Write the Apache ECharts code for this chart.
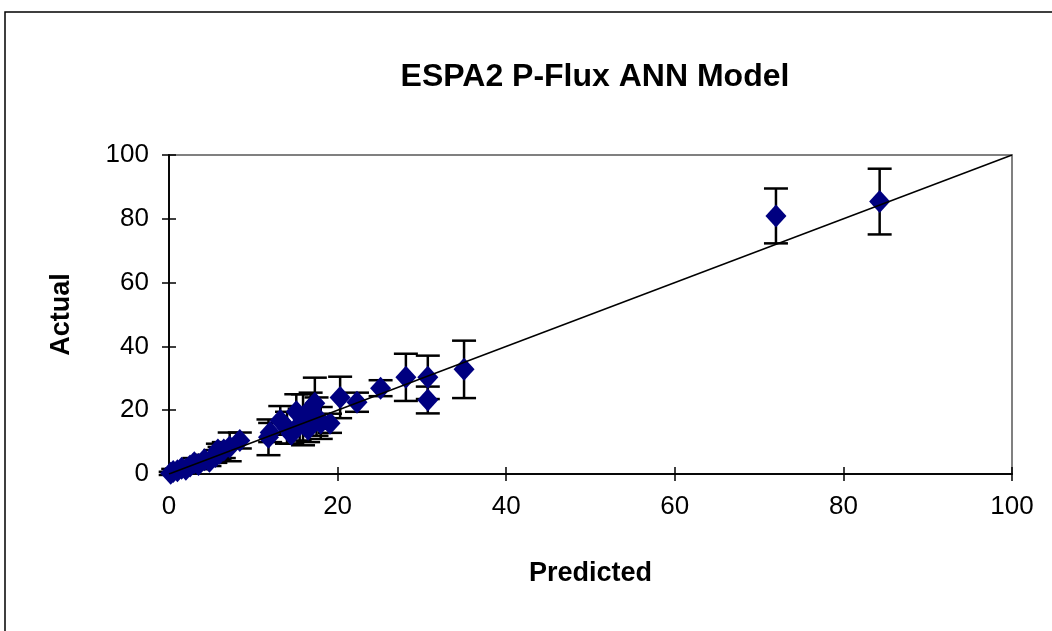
<!DOCTYPE html>
<html>
<head>
<meta charset="utf-8">
<script src="https://cdn.jsdelivr.net/npm/echarts@6/dist/echarts.min.js"></script>
<style>html,body{margin:0;padding:0;background:#fff;}#c{width:1052px;height:631px;}</style>
</head>
<body>
<div id="c"></div>
<script>
var predicted = [0.2,0.5,1.0,1.5,2.0,2.5,3.0,3.5,4.2,4.8,5.5,5.8,6.0,6.5,7.2,8.4,11.8,12.0,13.2,14.0,14.5,15.1,15.5,15.9,16.5,16.8,17.3,17.5,18.0,19.1,20.3,22.3,25.1,28.1,30.7,30.7,35.0,72.0,84.3];
var actual    = [0.2,0.8,1.0,1.8,1.5,2.5,3.5,3.0,4.5,4.0,5.5,7.5,6.5,7.5,8.5,10.5,11.5,13.0,16.8,14.5,12.5,19.5,15.5,17.0,14.0,20.5,22.2,18.0,16.0,15.9,24.0,22.5,26.9,30.3,30.3,23.2,32.8,80.9,85.4];
var errorBar  = [0.5,0.8,0.8,1.0,1.0,1.2,1.5,1.5,1.5,1.5,2.0,2.0,2.0,2.5,4.5,2.5,5.6,3.0,4.5,5.0,3.0,5.5,5.0,8.0,4.0,5.0,8.0,6.0,5.0,3.0,6.5,3.0,2.5,7.4,6.8,4.2,9.0,8.6,10.3];
var xTicks = [0,20,40,60,80,100];
var yTicks = [0,20,40,60,80,100];
var fitLine = [[0,0],[100,100]];

var pts = predicted.map(function(p,i){return [p, actual[i]];});
var errs = predicted.map(function(p,i){return [p, actual[i]-errorBar[i], actual[i]+errorBar[i]];});

var chart = echarts.init(document.getElementById('c'));
var FONT = 'Liberation Sans, Arial, sans-serif';
function xAx(inside, show){
  return {type:'value', min:xTicks[0], max:xTicks[xTicks.length-1], interval:20, position:'bottom',
    axisLine:{show:true, onZero:false, lineStyle:{color:'#000', width:1.5}},
    axisTick:{show:true, inside:inside, length:7, lineStyle:{color:'#000', width:1.5}},
    axisLabel:{show:show, margin:20, color:'#000', fontSize:26, fontFamily:FONT},
    splitLine:{show:false},
    name: show ? 'Predicted' : '', nameLocation:'middle', nameGap:86,
    nameTextStyle:{color:'#000', fontSize:27, fontWeight:'bold', fontFamily:FONT}};
}
function yAx(inside, show){
  return {type:'value', min:yTicks[0], max:yTicks[yTicks.length-1], interval:20, position:'left',
    axisLine:{show:true, onZero:false, lineStyle:{color:'#000', width:1.5}},
    axisTick:{show:true, inside:inside, length:7, lineStyle:{color:'#000', width:1.5}},
    axisLabel:{show:show, margin:20, color:'#000', fontSize:26, fontFamily:FONT},
    splitLine:{show:false},
    name: show ? 'Actual' : '', nameLocation:'middle', nameGap:94,
    nameTextStyle:{color:'#000', fontSize:27, fontWeight:'bold', fontFamily:FONT}};
}
chart.setOption({
  animation:false,
  backgroundColor:'#fff',
  title:{text:'ESPA2 P-Flux ANN Model', left:590, top:56, textAlign:'center',
    textStyle:{color:'#000', fontSize:32, fontWeight:'bold', fontFamily:FONT}},
  graphic:[{type:'rect', shape:{x:5, y:12, width:1100, height:700}, style:{fill:'none', stroke:'#000', lineWidth:1.5}, silent:true}],
  grid:{left:169, right:40, top:155, bottom:157, show:true, borderColor:'#808080', borderWidth:2, backgroundColor:'transparent'},
  xAxis:[xAx(false,true), xAx(true,false)],
  yAxis:[yAx(false,true), yAx(true,false)],
  series:[
    {type:'custom', xAxisIndex:0, yAxisIndex:0, data:errs, z:2,
      renderItem:function(params, api){
        var x = api.value(0), lo = api.value(1), hi = api.value(2);
        var pLo = api.coord([x, lo]), pHi = api.coord([x, hi]);
        var w = 12;
        var st = {stroke:'#000', lineWidth:2.5};
        return {type:'group', children:[
          {type:'line', shape:{x1:pLo[0], y1:pLo[1], x2:pHi[0], y2:pHi[1]}, style:st},
          {type:'line', shape:{x1:pLo[0]-w, y1:pLo[1], x2:pLo[0]+w, y2:pLo[1]}, style:st},
          {type:'line', shape:{x1:pHi[0]-w, y1:pHi[1], x2:pHi[0]+w, y2:pHi[1]}, style:st}
        ]};
      }},
    {type:'scatter', xAxisIndex:0, yAxisIndex:0, data:pts, symbol:'diamond', symbolSize:[21,23], z:3,
      itemStyle:{color:'#000080', opacity:1}},
    {type:'line', xAxisIndex:0, yAxisIndex:0, data:fitLine, symbol:'none', z:4,
      lineStyle:{color:'#000', width:1.5}}
  ]
});
</script>
</body>
</html>
